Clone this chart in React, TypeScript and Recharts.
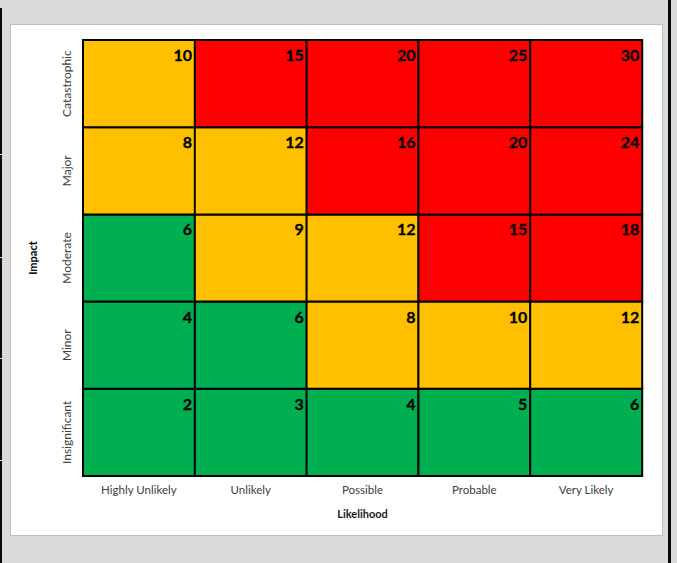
import React from 'react';
import { BarChart, Bar, XAxis, YAxis, Cell, LabelList, Label } from 'recharts';

const likelihoodLabels = ['Highly Unlikely', 'Unlikely', 'Possible', 'Probable', 'Very Likely'];
const impactLabels = ['Insignificant', 'Minor', 'Moderate', 'Major', 'Catastrophic'];
const impactKeys = ['insignificant', 'minor', 'moderate', 'major', 'catastrophic'];
const impactTicks = [0.5, 1.5, 2.5, 3.5, 4.5];
const rowSpan = [1, 1, 1, 1, 1];

const insignificantScores = [2, 3, 4, 5, 6];
const minorScores = [4, 6, 8, 10, 12];
const moderateScores = [6, 9, 12, 15, 18];
const majorScores = [8, 12, 16, 20, 24];
const catastrophicScores = [10, 15, 20, 25, 30];

const insignificantRatings = ['low', 'low', 'low', 'low', 'low'];
const minorRatings = ['low', 'low', 'medium', 'medium', 'medium'];
const moderateRatings = ['low', 'medium', 'medium', 'high', 'high'];
const majorRatings = ['medium', 'medium', 'high', 'high', 'high'];
const catastrophicRatings = ['medium', 'high', 'high', 'high', 'high'];

const ratingColors: Record<string, string> = { low: '#00b050', medium: '#ffc000', high: '#ff0000' };

const scoreRows = [insignificantScores, minorScores, moderateScores, majorScores, catastrophicScores];
const ratingRows = [insignificantRatings, minorRatings, moderateRatings, majorRatings, catastrophicRatings];

const data = likelihoodLabels.map((likelihood, j) => {
  const row: Record<string, any> = { likelihood };
  impactKeys.forEach((key, i) => {
    row[key] = rowSpan[i];
    row[key + 'Score'] = scoreRows[i][j];
  });
  return row;
});

const FONT = 'Lato, "Open Sans", sans-serif';

const renderScore = (props: any) => {
  const { x, y, width, value } = props;
  return (
    <text
      x={Number(x) + Number(width) - 3}
      y={Number(y) + 21}
      textAnchor="end"
      fontFamily={FONT}
      fontWeight={700}
      fontSize={16}
      fill="#000"
      stroke="#000"
      strokeWidth={0.3}
    >
      {value}
    </text>
  );
};

const YTick = (props: any) => {
  const { x, y, payload } = props;
  const idx = Math.floor(Number(payload.value));
  return (
    <text
      x={0}
      y={0}
      transform={`translate(${x - 9},${y}) rotate(-90)`}
      textAnchor="middle"
      dominantBaseline="central"
      fontFamily={FONT}
      fontSize={12}
      fill="#404040"
    >
      {impactLabels[idx]}
    </text>
  );
};

const XTick = (props: any) => {
  const { x, y, payload } = props;
  return (
    <text x={x} y={y + 10} textAnchor="middle" fontFamily={FONT} fontSize={11.5} fill="#404040">
      {payload.value}
    </text>
  );
};

const edgeMarks = [154, 257, 358, 460];

export default function App() {
  return (
    <div style={{ position: 'absolute', left: 0, top: 0, width: 677, height: 563, background: '#d9d9d9', overflow: 'hidden' }}>
      <div style={{ position: 'absolute', left: 0, top: 8, width: 2, height: 555, background: '#0a0a0a' }} />
      {edgeMarks.map((m) => (
        <div key={m} style={{ position: 'absolute', left: 0, top: m, width: 2, height: 1, background: '#e0e0e0' }} />
      ))}
      <div style={{ position: 'absolute', left: 668, top: 0, width: 3, height: 563, background: '#0a0a0a' }} />
      <div
        style={{
          position: 'absolute',
          left: 10,
          top: 24,
          width: 653,
          height: 512,
          boxSizing: 'border-box',
          background: '#fff',
          border: '1px solid #bfbfbf',
        }}
      />
      <div style={{ position: 'absolute', left: 0, top: 0 }}>
        <BarChart
          width={677}
          height={563}
          data={data}
          margin={{ top: 40, right: 35, bottom: 57, left: 23 }}
          barCategoryGap={0}
          barGap={0}
        >
          <XAxis
            dataKey="likelihood"
            axisLine={false}
            tickLine={false}
            height={30}
            tick={<XTick />}
            interval={0}
          >
            <Label
              content={(p: any) => {
                const vb = p.viewBox;
                return (
                  <text
                    x={vb.x + vb.width / 2}
                    y={518}
                    textAnchor="middle"
                    fontFamily={FONT}
                    fontWeight={700}
                    fontSize={11}
                    fill="#1a1a1a"
                  >
                    Likelihood
                  </text>
                );
              }}
            />
          </XAxis>
          <YAxis
            type="number"
            domain={[0, 5]}
            ticks={impactTicks}
            axisLine={false}
            tickLine={false}
            width={60}
            tick={<YTick />}
            interval={0}
          >
            <Label
              content={(p: any) => {
                const vb = p.viewBox;
                const cx = vb.x + 9;
                const cy = vb.y + vb.height / 2;
                return (
                  <text
                    x={0}
                    y={0}
                    transform={`translate(${cx},${cy}) rotate(-90)`}
                    textAnchor="middle"
                    dominantBaseline="central"
                    fontFamily={FONT}
                    fontWeight={700}
                    fontSize={11}
                    fill="#000"
                  >
                    Impact
                  </text>
                );
              }}
            />
          </YAxis>
          {impactKeys.map((key, i) => (
            <Bar
              key={key}
              dataKey={key}
              stackId="grid"
              isAnimationActive={false}
              stroke="#000"
              strokeWidth={2}
            >
              {data.map((_, j) => (
                <Cell key={j} fill={ratingColors[ratingRows[i][j]]} />
              ))}
              <LabelList dataKey={key + 'Score'} content={renderScore} />
            </Bar>
          ))}
        </BarChart>
      </div>
    </div>
  );
}
